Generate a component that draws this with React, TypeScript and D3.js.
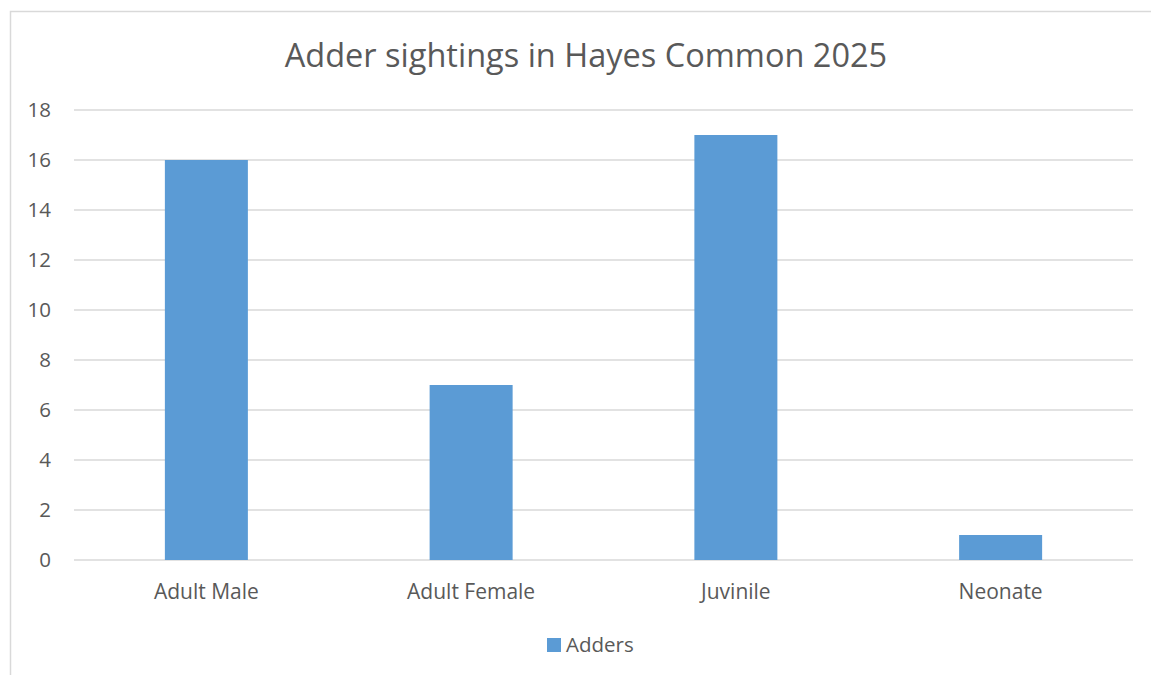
import React from "react";
import * as d3 from "d3";

const categories = ["Adult Male", "Adult Female", "Juvinile", "Neonate"];
const adders = [16, 7, 17, 1];
const yTicks = [0, 2, 4, 6, 8, 10, 12, 14, 16, 18];
const seriesName = "Adders";
const title = "Adder sightings in Hayes Common 2025";

const W = 1151;
const H = 675;
const FONT = "'Open Sans', sans-serif";
const TEXT = "#595959";
const GRID = "#D9D9D9";
const BAR = "#5B9BD5";

export default function App() {
  const x = d3
    .scaleBand<string>()
    .domain(categories)
    .range([74, 1133])
    .paddingInner(0.6865)
    .paddingOuter(0.34325);
  const y = d3.scaleLinear().domain([0, 18]).range([560, 110]);

  return (
    <svg
      width={W}
      height={H}
      style={{ position: "absolute", left: 0, top: 0, background: "#fff" }}
      fontFamily={FONT}
    >
      {/* chart frame */}
      <rect x={10.5} y={11.5} width={W + 20} height={H + 20} fill="#fff" stroke={GRID} strokeWidth={1.5} />

      <text x={586} y={67} textAnchor="middle" fontSize={32.5} fill={TEXT}>
        {title}
      </text>

      {/* gridlines + y tick labels */}
      {yTicks.map((t) => (
        <g key={t}>
          <line x1={74} x2={1133} y1={y(t)} y2={y(t)} stroke={GRID} strokeWidth={1.5} />
          <text x={51} y={y(t)} dy="0.36em" textAnchor="end" fontSize={20.5} fill={TEXT}>
            {t}
          </text>
        </g>
      ))}

      {/* bars */}
      {categories.map((c, i) => (
        <rect
          key={c}
          x={x(c)}
          y={y(adders[i])}
          width={x.bandwidth()}
          height={y(0) - y(adders[i])}
          fill={BAR}
        />
      ))}

      {/* category labels */}
      {categories.map((c) => (
        <text
          key={c}
          x={(x(c) as number) + x.bandwidth() / 2}
          y={599}
          textAnchor="middle"
          fontSize={21}
          fill={TEXT}
        >
          {c}
        </text>
      ))}

      {/* legend */}
      <rect x={547} y={638} width={14} height={14} fill={BAR} />
      <text x={566} y={651.5} fontSize={20.5} fill={TEXT}>
        {seriesName}
      </text>
    </svg>
  );
}
